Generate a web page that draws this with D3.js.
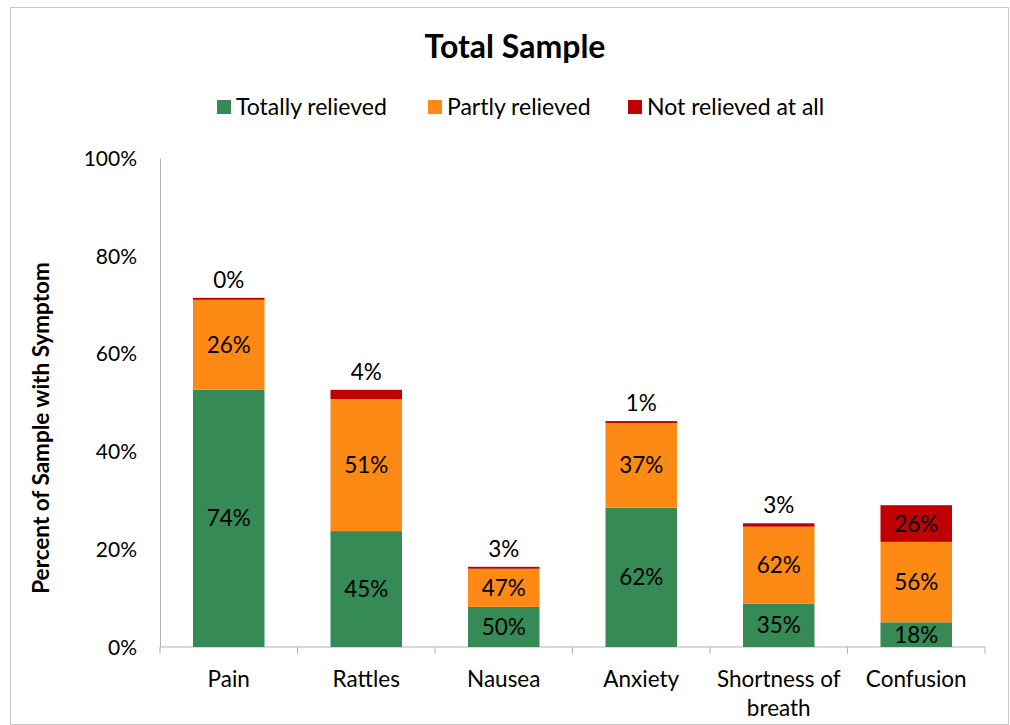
<!DOCTYPE html>
<html>
<head>
<meta charset="utf-8">
<script src="https://cdnjs.cloudflare.com/ajax/libs/d3/7.8.5/d3.min.js"></script>
<style>
  body { margin: 0; background: #fff; }
  svg text { font-family: Lato, "Open Sans", sans-serif; fill: #000; }
</style>
</head>
<body>
<svg id="chart" width="1010" height="725"></svg>
<script>
// categories and series (percent of sample)
const categories = ["Pain", "Rattles", "Nausea", "Anxiety", "Shortness of breath", "Confusion"];
const totally = [52.6, 23.7, 8.2, 28.5, 8.9, 5.05];
const partly = [18.4, 27.0, 7.8, 17.3, 15.7, 16.45];
const notAtAll = [0.4, 1.9, 0.4, 0.4, 0.7, 7.5];
// data labels shown (share of each bar)
const totallyLbl = [74, 45, 50, 62, 35, 18];
const partlyLbl = [26, 51, 47, 37, 62, 56];
const notLbl = [0, 4, 3, 1, 3, 26];
const yTicks = [0, 20, 40, 60, 80, 100];

const seriesNames = ["Totally relieved", "Partly relieved", "Not relieved at all"];
const colors = ["#368a55", "#fd8a14", "#c00000"];

const svg = d3.select("#chart");
const margin = {left: 160, right: 25, top: 158, bottom: 78};
const width = 1010 - margin.left - margin.right;
const height = 725 - margin.top - margin.bottom;

// chart border
svg.append("rect")
  .attr("x", 10.5).attr("y", 7.5)
  .attr("width", 1010 - 12).attr("height", 725 - 8)
  .attr("fill", "none").attr("stroke", "#c8c8c8");

svg.append("text")
  .attr("x", 515).attr("y", 58)
  .attr("text-anchor", "middle")
  .style("font-size", "32px").style("font-weight", "bold")
  .text("Total Sample");

// legend
const legendX = [217, 428, 628];
const legend = svg.append("g");
seriesNames.forEach((name, i) => {
  legend.append("rect")
    .attr("x", legendX[i]).attr("y", 100)
    .attr("width", 14).attr("height", 14)
    .attr("fill", colors[i]);
  legend.append("text")
    .attr("x", legendX[i] + 19).attr("y", 115)
    .style("font-size", "23px")
    .text(name);
});

const g = svg.append("g").attr("transform", "translate(" + margin.left + "," + margin.top + ")");

const x = d3.scaleBand().domain(categories).range([0, width]).paddingInner(0.48).paddingOuter(0.24);
const y = d3.scaleLinear().domain([0, 100]).range([height, 0]);

// y axis
const yAxis = g.append("g")
  .call(d3.axisLeft(y).tickValues(yTicks).tickSize(0).tickPadding(23).tickFormat(d => d + "%"));
yAxis.select(".domain").attr("stroke", "#b3b3b3");
yAxis.selectAll("text").style("font-size", "21px").attr("dy", "0.35em");

// x axis with ticks at band boundaries
const xAxis = g.append("g").attr("transform", "translate(0," + height + ")");
xAxis.append("line").attr("x1", 0).attr("x2", width).attr("stroke", "#b3b3b3");
const step = x.step();
d3.range(categories.length + 1).forEach(i => {
  xAxis.append("line")
    .attr("x1", i * step).attr("x2", i * step)
    .attr("y1", 0).attr("y2", 7)
    .attr("stroke", "#b3b3b3");
});
categories.forEach(c => {
  const words = c === "Shortness of breath" ? ["Shortness of", "breath"] : [c];
  words.forEach((w, j) => {
    xAxis.append("text")
      .attr("x", x(c) + x.bandwidth() / 2)
      .attr("y", 40 + j * 29)
      .attr("text-anchor", "middle")
      .style("font-size", "22.5px")
      .text(w);
  });
});

// stacked bars
const rows = categories.map((c, i) => ({cat: c, s0: totally[i], s1: partly[i], s2: notAtAll[i]}));
const stack = d3.stack().keys(["s0", "s1", "s2"])(rows);
const labels = [totallyLbl, partlyLbl, notLbl];

stack.forEach((layer, k) => {
  g.selectAll(".bar" + k)
    .data(layer)
    .enter()
    .append("rect")
    .attr("x", d => x(d.data.cat))
    .attr("y", d => y(d[1]))
    .attr("width", x.bandwidth())
    .attr("height", d => y(d[0]) - y(d[1]))
    .attr("fill", colors[k]);

  g.selectAll(".lbl" + k)
    .data(layer)
    .enter()
    .append("text")
    .attr("x", d => x(d.data.cat) + x.bandwidth() / 2)
    .attr("y", d => {
      const h = y(d[0]) - y(d[1]);
      if (k === 2 && h < 22) return y(d[1]) - 10;
      return (y(d[0]) + y(d[1])) / 2 + 8;
    })
    .attr("text-anchor", "middle")
    .style("font-size", "22.5px")
    .text((d, i) => labels[k][i] + "%");
});

// y axis title
svg.append("text")
  .attr("transform", "translate(49,428) rotate(-90)")
  .attr("text-anchor", "middle")
  .style("font-size", "22.5px").style("font-weight", "bold")
  .text("Percent of Sample with Symptom");
</script>
</body>
</html>
